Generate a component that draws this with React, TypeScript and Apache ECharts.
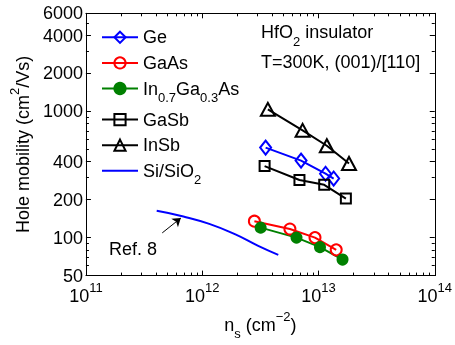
import React, { useEffect, useRef } from 'react';
import * as echarts from 'echarts';

// ---- data ----
const geData = [[3.51e12, 517], [7.08e12, 408], [1.15e13, 321], [1.35e13, 294]];
const gaAsData = [[2.81e12, 135], [5.68e12, 117], [9.33e12, 100], [1.42e13, 80]];
const inGaAsData = [[3.18e12, 120], [6.47e12, 100], [1.03e13, 84], [1.61e13, 67]];
const gaSbData = [[3.44e12, 369], [6.86e12, 286], [1.12e13, 262], [1.72e13, 204]];
const inSbData = [[3.67e12, 1040], [7.3e12, 709], [1.18e13, 535], [1.83e13, 387]];
const siData = [[4.06e11, 163], [6.89e11, 147], [1.15e12, 128.5], [1.93e12, 106], [3.03e12, 86], [4.51e12, 73]];
const seriesNames = ['Ge', 'GaAs', 'In0.7Ga0.3As', 'GaSb', 'InSb', 'Si/SiO2'];
const yTickValues = [50, 100, 200, 400, 1000, 2000, 4000, 6000];
const yMinorTickValues = [60, 70, 80, 90, 200, 300, 400, 500, 600, 700, 800, 900, 2000, 3000, 4000, 5000];
const xRange = [1e11, 1e14];
const yRange = [50, 6000];
const refArrow = [[4.53e11, 109], [6.55e11, 143]];

const FONT = '"Liberation Sans", Arial, Helvetica, sans-serif';

function richSet(L: number) {
  return {
    b: { fontSize: 18, fontFamily: FONT, color: '#000', fill: '#000', lineHeight: L },
    s: { fontSize: 13, fontFamily: FONT, color: '#000', fill: '#000', lineHeight: L, verticalAlign: 'top', padding: [L / 2 + 9 - 6.5, 0, 0, 0] },
    p: { fontSize: 13, fontFamily: FONT, color: '#000', fill: '#000', lineHeight: L, verticalAlign: 'top' },
  };
}

const legendRich: Record<string, string> = {
  'In0.7Ga0.3As': '{b|In}{s|0.7}{b|Ga}{s|0.3}{b|As}',
  'Si/SiO2': '{b|Si/SiO}{s|2}',
};

export default function App() {
  const ref = useRef<HTMLDivElement>(null);
  useEffect(() => {
    if (!ref.current) return;
    const chart = echarts.init(ref.current, null, { renderer: 'svg' });
    const tickLine = { color: '#000', width: 1 };
    const axisCommon = {
      axisLine: { show: true, onZero: false, lineStyle: { color: '#000', width: 1 } },
      axisTick: { show: true, inside: true, length: 5, lineStyle: tickLine },
      splitLine: { show: false },
      minorSplitLine: { show: false },
    };
    const xBase = {
      type: 'log', logBase: 10, min: xRange[0], max: xRange[1], ...axisCommon,
      minorTick: { show: true, splitNumber: 9, length: 3, lineStyle: tickLine },
    };
    const yBase = {
      type: 'log', logBase: 10, min: yRange[0], max: yRange[1], ...axisCommon,
      axisTick: { ...axisCommon.axisTick, customValues: yTickValues },
      minorTick: { show: false },
    };
    const yMinor = (position: string) => ({
      type: 'log', logBase: 10, min: yRange[0], max: yRange[1], position,
      axisLine: { show: false, onZero: false },
      axisTick: { show: true, inside: true, length: 3, lineStyle: tickLine, customValues: yMinorTickValues },
      axisLabel: { show: false },
      splitLine: { show: false },
    });
    const blue = '#0000ff', red = '#ff0000', green = '#008000', black = '#000000';
    const mk = (name: string, data: number[][], color: string, symbol: string, size: any, filled: boolean) => ({
      name, type: 'line', data, color, symbol, symbolSize: size,
      lineStyle: { color, width: 2 },
      itemStyle: { color: filled ? color : 'rgba(0,0,0,0)', borderColor: color, borderWidth: 2 },
      emphasis: { disabled: true },
    });
    chart.setOption({
      animation: false,
      textStyle: { fontFamily: FONT },
      grid: { left: 80, right: 17.3, top: 13.3, bottom: 63.3, containLabel: false },
      xAxis: [
        {
          ...xBase, position: 'bottom',
          name: '{b|n}{s|s}{b| (cm}{p|−2}{b|)}', nameLocation: 'middle', nameGap: 31,
          nameTextStyle: { rich: richSet(30) },
          axisLabel: {
            show: true, margin: 5, color: '#000',
            formatter: (v: number) => '{b|10}{p|' + Math.round(Math.log10(v)) + '}',
            rich: richSet(30),
          },
        },
        { ...xBase, position: 'top', axisLabel: { show: false } },
      ],
      yAxis: [
        {
          ...yBase, position: 'left',
          name: '{b|Hole mobility (cm}{p|2}{b|/Vs)}', nameLocation: 'middle', nameGap: 45, nameRotate: 90,
          nameTextStyle: { rich: richSet(30) },
          axisLabel: {
            show: true, margin: 3, color: '#000', fontSize: 18, fontFamily: FONT,
            customValues: yTickValues,
            formatter: (v: number) => String(Math.round(v)),
          },
        },
        { ...yBase, position: 'right', axisLabel: { show: false } },
        yMinor('left'),
        yMinor('right'),
      ],
      legend: {
        orient: 'vertical', left: 101, top: 27.3, padding: 0,
        itemWidth: 36, itemHeight: 14, itemGap: 5.6,
        selectedMode: false,
        textStyle: { fontFamily: FONT, fontSize: 18, color: '#000', lineHeight: 20, rich: richSet(20) },
        formatter: (name: string) => legendRich[name] || '{b|' + name + '}',
        data: seriesNames.map((n) => n === 'Si/SiO2'
          ? { name: n, icon: 'path://M0,0L36,0L36,2L0,2Z', itemStyle: { color: blue, borderWidth: 0 } }
          : { name: n }),
      },
      graphic: [
        { type: 'text', x: 261, y: 32, style: { text: '{b|HfO}{s|2}{b| insulator}', rich: richSet(20), verticalAlign: 'middle', align: 'left' } },
        { type: 'text', x: 261, y: 61.5, style: { text: 'T=300K, (001)/[110]', fontSize: 18, fontFamily: FONT, fill: '#000', verticalAlign: 'middle', align: 'left' } },
        { type: 'text', x: 109, y: 249, style: { text: 'Ref. 8', fontSize: 18, fontFamily: FONT, fill: '#000', verticalAlign: 'middle', align: 'left' } },
      ],
      series: [
        mk(seriesNames[0], geData, blue, 'diamond', [11, 14], false),
        mk(seriesNames[1], gaAsData, red, 'circle', 11, false),
        mk(seriesNames[2], inGaAsData, green, 'circle', 10, true),
        mk(seriesNames[3], gaSbData, black, 'rect', 10, false),
        mk(seriesNames[4], inSbData, black, 'triangle', [14, 13], false),
        {
          name: seriesNames[5], type: 'line', data: siData, color: blue, symbol: 'none', smooth: true,
          lineStyle: { color: blue, width: 2 }, itemStyle: { color: blue },
          emphasis: { disabled: true },
          markLine: {
            silent: true, symbol: ['none', 'arrow'], symbolSize: 8,
            lineStyle: { color: '#000', width: 1, type: 'solid' },
            label: { show: false },
            data: [[{ coord: refArrow[0] }, { coord: refArrow[1] }]],
          },
        },
      ],
    });
    return () => chart.dispose();
  }, []);
  return <div ref={ref} style={{ position: 'fixed', left: 0, top: 0, width: 455, height: 345 }} />;
}
